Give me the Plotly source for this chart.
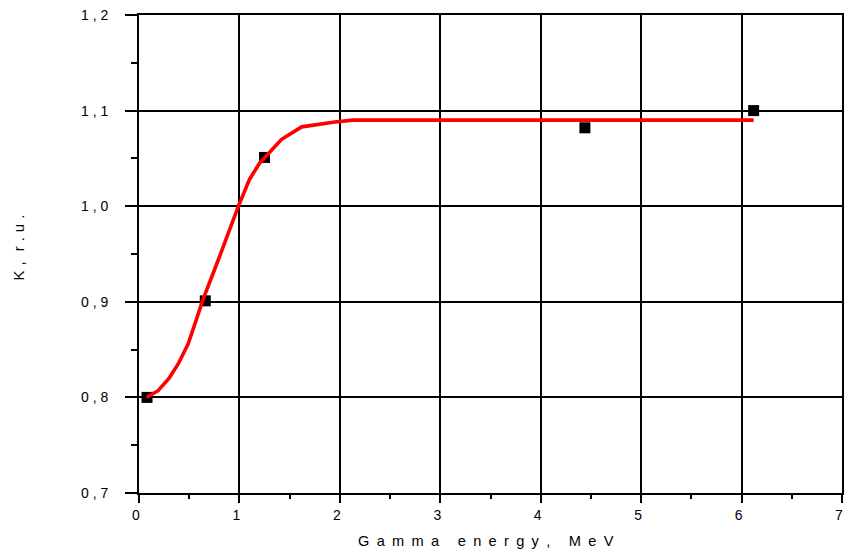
import plotly.graph_objects as go

# measured data points
pts_x = [0.08, 0.66, 1.25, 4.44, 6.12]
pts_y = [0.800, 0.901, 1.051, 1.082, 1.100]

# fitted curve
fit_x = [0.076, 0.19, 0.30, 0.39, 0.49, 0.64, 0.79, 0.99, 1.10, 1.20, 1.42, 1.62, 1.95, 2.13, 6.12]
fit_y = [0.800, 0.807, 0.820, 0.835, 0.856, 0.903, 0.944, 1.000, 1.028, 1.045, 1.070, 1.083, 1.088, 1.090, 1.090]

x_ticks = [0, 1, 2, 3, 4, 5, 6, 7]
x_ticklabels = ["0", "1", "2", "3", "4", "5", "6", "7"]
y_ticks = [0.7, 0.8, 0.9, 1.0, 1.1, 1.2]
y_ticklabels = ["0 , 7", "0 , 8", "0 , 9", "1 , 0", "1 , 1", "1 , 2"]

S = "\u2002"   # en space used as letter spacing
T = "\u2004"   # three-per-em space
x_title = S.join("Gamma") + S + " " + S + S.join("energy,") + S + " " + S + S.join("MeV")
y_title = "K" + T + "," + T + T + "r" + T + "." + T + "u" + T + "."

FONT = "Arial, Liberation Sans, sans-serif"

fig = go.Figure()
fig.add_trace(go.Scatter(
    x=pts_x, y=pts_y, mode="markers",
    marker=dict(symbol="square", size=11, color="black"),
    showlegend=False, cliponaxis=False,
))
fig.add_trace(go.Scatter(
    x=fit_x, y=fit_y, mode="lines",
    line=dict(color="#ff0000", width=3.6),
    showlegend=False,
))

fig.update_layout(
    width=844, height=559,
    margin=dict(l=139, r=2, t=15, b=66, autoexpand=False),
    paper_bgcolor="white", plot_bgcolor="white",
    font=dict(family=FONT, size=14, color="black"),
    xaxis=dict(
        range=[0, 7], tickvals=x_ticks, ticktext=x_ticklabels,
        automargin=False, ticklabeloverflow="allow",
        showgrid=True, gridcolor="black", gridwidth=1.8,
        showline=True, linecolor="black", linewidth=1.8, mirror=True,
        ticks="outside", ticklen=8, tickwidth=1.8, tickcolor="black",
        minor=dict(dtick=0.5, ticks="outside", ticklen=4, tickwidth=1.5, tickcolor="black", showgrid=False),
        zeroline=False,
        tickfont=dict(size=14),
        ticklabelstandoff=0,
        ticklabelshift=-3,
    ),
    yaxis=dict(
        range=[0.7, 1.2], tickvals=y_ticks, ticktext=y_ticklabels,
        automargin=False, ticklabeloverflow="allow",
        showgrid=True, gridcolor="black", gridwidth=1.8,
        showline=True, linecolor="black", linewidth=1.8, mirror=True,
        ticks="outside", ticklen=12, tickwidth=1.8, tickcolor="black",
        minor=dict(dtick=0.05, ticks="outside", ticklen=6, tickwidth=1.5, tickcolor="black", showgrid=False),
        zeroline=False,
        ticklabelstandoff=14,
        tickfont=dict(size=14),
    ),
    annotations=[
        dict(text=x_title, xref="paper", yref="paper", x=0.4936, y=-0.1004,
             xanchor="center", yanchor="middle", showarrow=False, font=dict(size=14.6)),
        dict(text=y_title, xref="paper", yref="paper", x=-0.1714, y=0.5126,
             xanchor="center", yanchor="middle", textangle=-90, showarrow=False, font=dict(size=15)),
    ],
)

# remove the browser's default 8px body margin so the figure fills the window
fig.write_html(
    "out.html",
    config={"displayModeBar": False},
    post_script="document.body.style.margin='0';document.documentElement.style.overflow='hidden';",
)
